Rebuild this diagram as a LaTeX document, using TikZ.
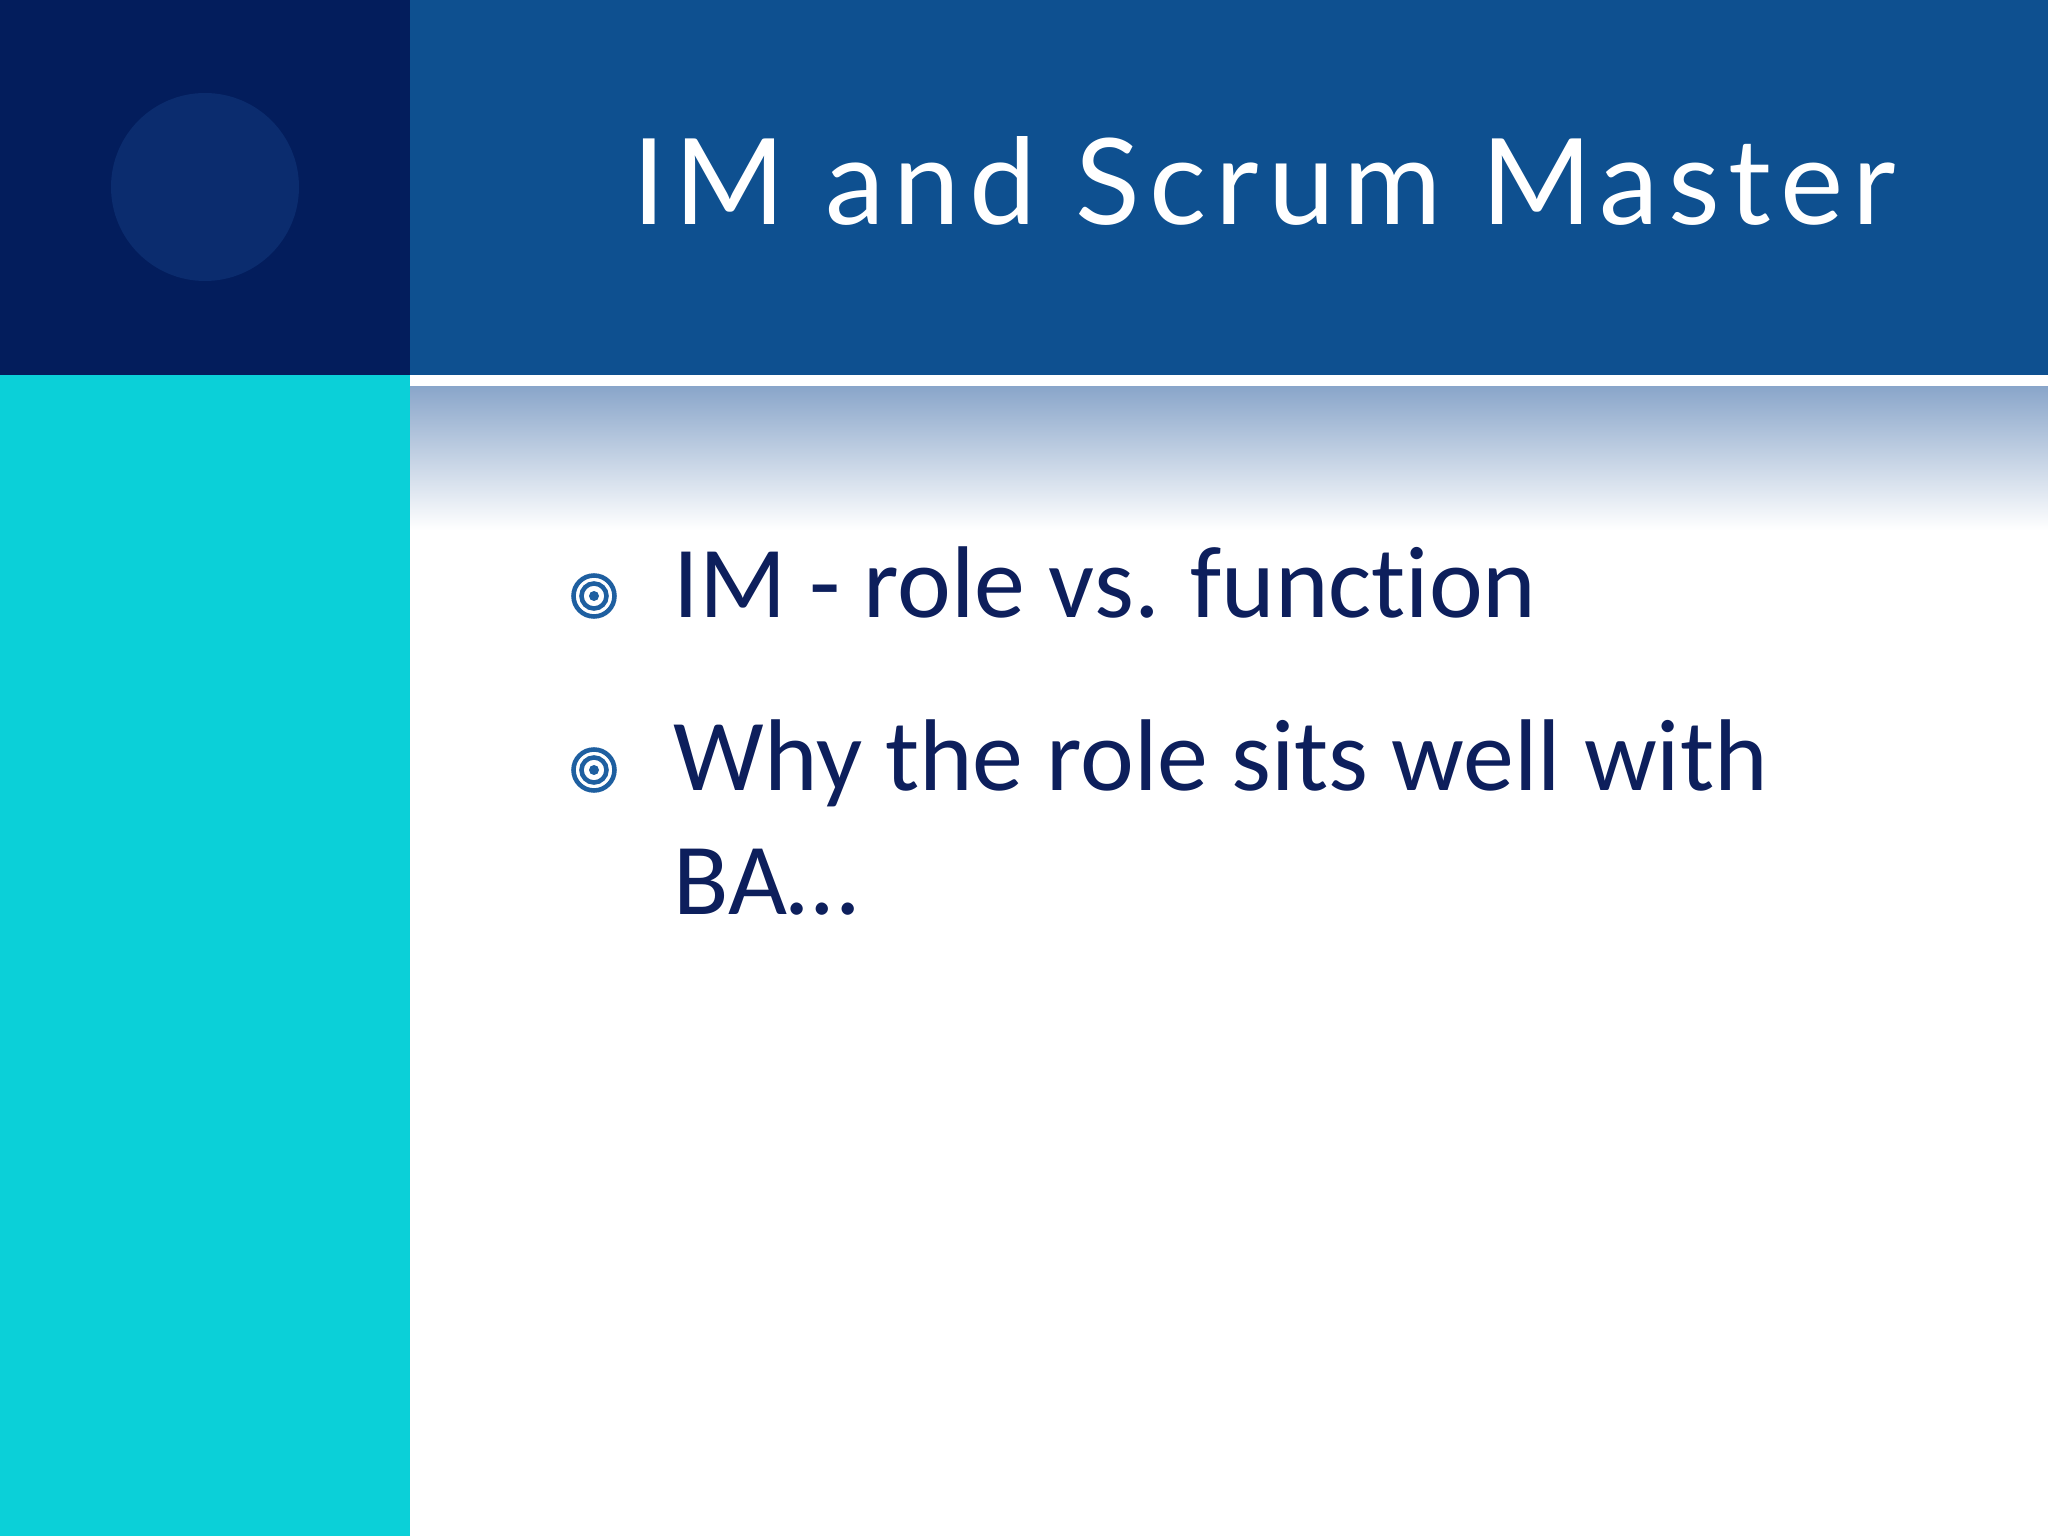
\documentclass[tikz,border=0pt]{standalone}
\usepackage{fontspec}
\setmainfont{Carlito}[Ligatures={NoCommon,NoRare}]
\newfontfamily\titlefont{Lato}[LetterSpace=7.5]
\definecolor{navy}{HTML}{031D5C}
\definecolor{navyc}{HTML}{0B2C6E}
\definecolor{hdr}{HTML}{0E5090}
\definecolor{cyanp}{HTML}{0BD0D8}
\definecolor{gradtop}{HTML}{8AA6CA}
\definecolor{txt}{HTML}{0D1F5C}
\definecolor{bul}{HTML}{1E5FA0}
\tikzset{
  bullettext/.style={anchor=base west, inner sep=0pt, text=txt, font=\fontsize{29}{35}\selectfont, align=left},
  ring/.style={draw=bul, line width=1.3pt}
}
\newcommand{\mybullet}[2]{%
  \draw[ring] (#1,#2) circle (0.205);
  \draw[ring] (#1,#2) circle (0.125);
  \fill[bul] (#1,#2) circle (0.05);
}
\begin{document}
\begin{tikzpicture}[x=1cm,y=-1cm]
\useasboundingbox (0,0) rectangle (20.48,15.36);
\fill[white] (0,0) rectangle (20.48,15.36);
\fill[navy] (0,0) rectangle (4.10,3.75);
\fill[navyc] (2.05,1.87) circle (0.94);
\fill[hdr] (4.10,0) rectangle (20.48,3.75);
\fill[cyanp] (0,3.75) rectangle (4.10,15.36);
\shade[top color=gradtop, bottom color=white] (4.10,3.87) rectangle (20.48,5.30);
\node[anchor=base, text=white, inner sep=0pt, font=\titlefont\fontsize{34}{40}\selectfont] (title) at (12.64,2.25) {IM and Scrum Master};
\mybullet{5.94}{5.96}
\mybullet{5.94}{7.70}
\node[bullettext] (b1) at (6.73,6.18) {IM - role vs. function};
\node[bullettext] (b2) at (6.73,7.91) {Why the role sits well with};
\node[bullettext] (b3) at (6.73,9.14) {BA…};
\end{tikzpicture}
\end{document}
